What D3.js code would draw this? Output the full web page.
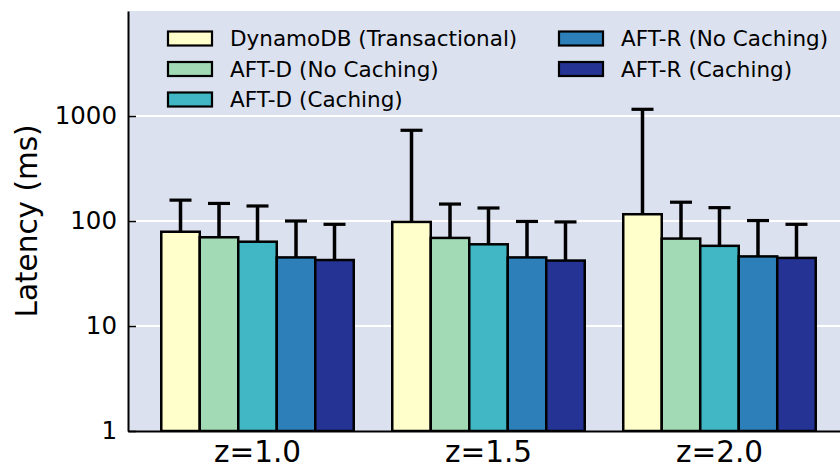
<!DOCTYPE html>
<html>
<head>
<meta charset="utf-8">
<script src="https://cdn.jsdelivr.net/npm/d3@7"></script>
<style>
  body { margin: 0; background: #fff; }
  svg { display: block; font-family: "DejaVu Sans", sans-serif; }
</style>
</head>
<body>
<div id="chart"></div>
<script>
'use strict';

// Data
var categories = ['z=1.0', 'z=1.5', 'z=2.0']
var seriesNames = ['DynamoDB (Transactional)', 'AFT-D (No Caching)', 'AFT-D (Caching)', 'AFT-R (No Caching)', 'AFT-R (Caching)']
var seriesColors = ['#ffffcc', '#a1dab4', '#41b6c4', '#2c7fb8', '#253494']

// median latency per group, and top of the error bar
var dynamoMedian = [79, 98, 116]
var dynamoTop = [158, 731, 1158]
var aftdNoCacheMedian = [70, 69, 68]
var aftdNoCacheTop = [147, 145, 151]
var aftdCacheMedian = [63.5, 60, 58]
var aftdCacheTop = [139, 133, 134]
var aftrNoCacheMedian = [45, 45, 46]
var aftrNoCacheTop = [100, 99, 101]
var aftrCacheMedian = [42.5, 42, 44.5]
var aftrCacheTop = [93, 98, 93]

var yTicks = [1, 10, 100, 1000]

var medians = [dynamoMedian, aftdNoCacheMedian, aftdCacheMedian, aftrNoCacheMedian, aftrCacheMedian]
var tops = [dynamoTop, aftdNoCacheTop, aftdCacheTop, aftrNoCacheTop, aftrCacheTop]

var width = 840, height = 468
var plot = {left: 128, right: 849, top: 11, bottom: 431}

var svg = d3.select('#chart').append('svg')
  .attr('width', width)
  .attr('height', height)

svg.append('clipPath').attr('id', 'plotclip')
  .append('rect')
  .attr('x', plot.left).attr('y', plot.top)
  .attr('width', plot.right - plot.left).attr('height', plot.bottom - plot.top)

// Scales
var x = d3.scaleBand()
  .domain(categories)
  .range([plot.left, plot.right])
  .paddingInner(1 / 6)
  .paddingOuter(0.144)

var xInner = d3.scaleBand()
  .domain(seriesNames)
  .range([0, x.bandwidth()])

var y = d3.scaleLog()
  .domain([1, 10000])
  .range([plot.bottom, plot.top])

var color = d3.scaleOrdinal().domain(seriesNames).range(seriesColors)

// Background
svg.append('rect')
  .attr('x', plot.left).attr('y', plot.top)
  .attr('width', plot.right - plot.left).attr('height', plot.bottom - plot.top)
  .attr('fill', '#dbe1ee')

// Grid
svg.append('g')
  .selectAll('line')
  .data(yTicks.filter(function(d){ return d > 1 }))
  .enter().append('line')
    .attr('x1', plot.left).attr('x2', plot.right)
    .attr('y1', function(d){ return y(d) }).attr('y2', function(d){ return y(d) })
    .attr('stroke', '#fff')
    .attr('stroke-width', 2)

// Bars
var rows = []
categories.forEach(function(cat, i){
  seriesNames.forEach(function(name, s){
    rows.push({cat: cat, name: name, value: medians[s][i], top: tops[s][i]})
  })
})

var bars = svg.append('g').attr('clip-path', 'url(#plotclip)')

bars.selectAll('rect.bar')
  .data(rows)
  .enter().append('rect')
    .attr('class', 'bar')
    .attr('x', function(d){ return x(d.cat) + xInner(d.name) })
    .attr('y', function(d){ return y(d.value) })
    .attr('width', xInner.bandwidth())
    .attr('height', function(d){ return y(1) - y(d.value) })
    .attr('fill', function(d){ return color(d.name) })
    .attr('stroke', '#000')
    .attr('stroke-width', 2.5)

// Error bars (upper side only)
var errs = bars.append('g')
errs.selectAll('line.stem')
  .data(rows)
  .enter().append('line')
    .attr('x1', function(d){ return x(d.cat) + xInner(d.name) + xInner.bandwidth() / 2 })
    .attr('x2', function(d){ return x(d.cat) + xInner(d.name) + xInner.bandwidth() / 2 })
    .attr('y1', function(d){ return y(d.value) })
    .attr('y2', function(d){ return y(d.top) })
    .attr('stroke', '#000')
    .attr('stroke-width', 3.5)

errs.selectAll('line.cap')
  .data(rows)
  .enter().append('line')
    .attr('x1', function(d){ return x(d.cat) + xInner(d.name) + xInner.bandwidth() / 2 - 11 })
    .attr('x2', function(d){ return x(d.cat) + xInner(d.name) + xInner.bandwidth() / 2 + 11 })
    .attr('y1', function(d){ return y(d.top) })
    .attr('y2', function(d){ return y(d.top) })
    .attr('stroke', '#000')
    .attr('stroke-width', 3.2)

// Axes
var yAxis = d3.axisLeft(y)
  .tickValues(yTicks)
  .tickFormat(d3.format('d'))
  .tickSizeInner(-8)
  .tickSizeOuter(0)
  .tickPadding(11)

var gy = svg.append('g')
  .attr('transform', 'translate(' + plot.left + ',0)')
  .call(yAxis)
gy.select('.domain').attr('stroke', '#000').attr('stroke-width', 2)
gy.selectAll('.tick line').attr('stroke', '#000').attr('stroke-width', 1.5)
gy.selectAll('.tick text')
  .attr('fill', '#000')
  .style('font-size', '24.5px')
  .style('font-family', '"DejaVu Sans", sans-serif')

var xAxis = d3.axisBottom(x)
  .tickSize(0)
  .tickPadding(10)

var gx = svg.append('g')
  .attr('transform', 'translate(0,' + plot.bottom + ')')
  .call(xAxis)
gx.select('.domain').attr('stroke', '#000').attr('stroke-width', 1.8)
gx.selectAll('.tick text')
  .attr('fill', '#000')
  .style('font-size', '29.5px')
  .style('font-family', '"DejaVu Sans", sans-serif')

// Y label
svg.append('text')
  .attr('transform', 'translate(37,' + 221 + ') rotate(-90)')
  .attr('text-anchor', 'middle')
  .style('font-size', '29.5px')
  .text('Latency (ms)')

// Legend
var legendCols = [{x: 168, items: seriesNames.slice(0, 3)}, {x: 559, items: seriesNames.slice(3)}]
var legend = svg.append('g')
legendCols.forEach(function(col){
  var g = legend.append('g').attr('transform', 'translate(' + col.x + ',0)')
  var item = g.selectAll('g')
    .data(col.items)
    .enter().append('g')
      .attr('transform', function(d, i){ return 'translate(0,' + (38.5 + i * 30.5) + ')' })
  item.append('rect')
    .attr('x', 0).attr('y', -7)
    .attr('width', 44).attr('height', 14)
    .attr('fill', function(d){ return color(d) })
    .attr('stroke', '#000')
    .attr('stroke-width', 2.2)
  item.append('text')
    .attr('x', 62)
    .attr('dy', '0.36em')
    .style('font-size', '21.5px')
    .text(function(d){ return d })
})
</script>
</body>
</html>
